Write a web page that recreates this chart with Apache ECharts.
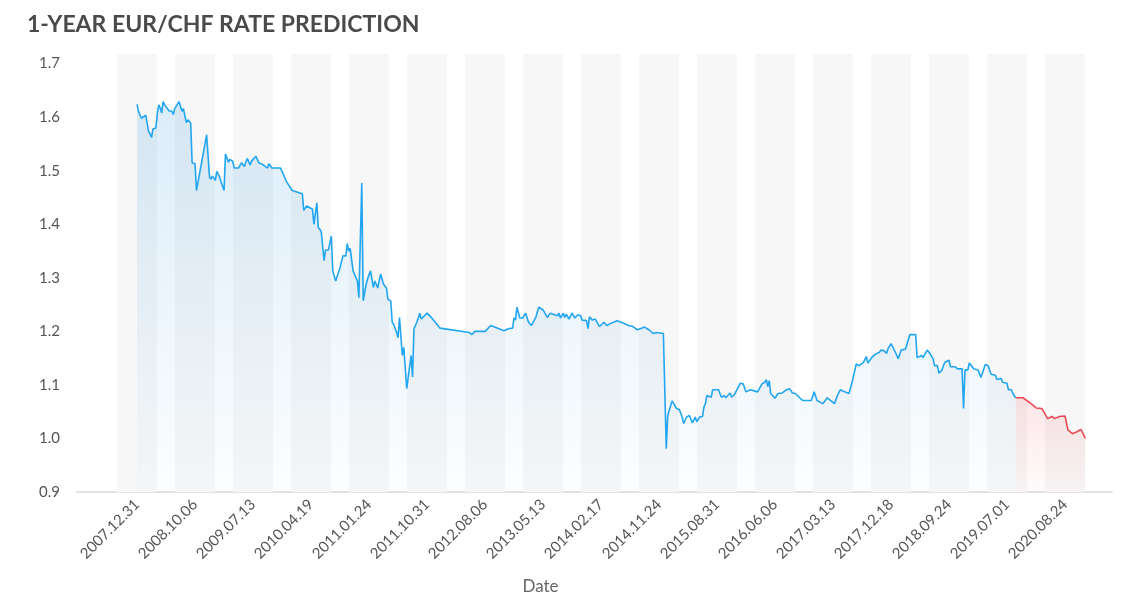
<!DOCTYPE html>
<html><head><meta charset="utf-8">
<script src="https://cdn.jsdelivr.net/npm/echarts@6/dist/echarts.min.js"></script>
<style>html,body{margin:0;padding:0;background:#fff}#c{width:1140px;height:612px}</style>
</head><body><div id="c"></div>
<script>
// x position = week index counted from 2007.12.31
const tickLabels = ['2007.12.31','2008.10.06','2009.07.13','2010.04.19','2011.01.24','2011.10.31','2012.08.06','2013.05.13','2014.02.17','2014.11.24','2015.08.31','2016.06.06','2017.03.13','2017.12.18','2018.09.24','2019.07.01','2020.08.24'];
const tickWeeks = [0,40,80,120,160,200,240,280,320,360,400,440,480,520,560,600,640];

const history = [
[0,1.624],[1,1.611],[2,1.609],[3,1.598],[4,1.601],[6,1.604],[7,1.607],[8,1.573],[9,1.569],[10,1.562],
[11,1.578],[13,1.580],[14,1.607],[15,1.623],[16,1.617],[17,1.608],[18,1.629],[19,1.623],[22,1.612],[24,1.611],
[25,1.605],[26,1.616],[27,1.618],[29,1.629],[31,1.611],[32,1.616],[33,1.618],[34,1.590],[35,1.595],[36,1.598],
[37,1.589],[38,1.515],[40,1.513],[41,1.463],[48,1.567],[50,1.488],[51,1.484],[52,1.490],[54,1.482],[55,1.499],
[57,1.488],[58,1.479],[60,1.463],[61,1.531],[62,1.524],[63,1.516],[64,1.521],[66,1.518],[67,1.505],[70,1.505],
[72,1.515],[74,1.508],[76,1.523],[78,1.511],[79,1.518],[82,1.527],[84,1.515],[87,1.511],[90,1.505],[91,1.513],
[93,1.505],[99,1.505],[101,1.493],[103,1.480],[107,1.463],[114,1.457],[115,1.426],[117,1.434],[121,1.428],[122,1.400],
[124,1.440],[125,1.394],[127,1.387],[129,1.332],[130,1.352],[132,1.352],[134,1.378],[135,1.313],[137,1.294],[140,1.319],
[141,1.319],[142,1.341],[144,1.341],[145,1.364],[146,1.350],[147,1.355],[149,1.313],[152,1.294],[153,1.263],[155,1.477],
[156,1.257],[158,1.288],[159,1.298],[161,1.313],[163,1.282],[164,1.294],[166,1.281],[168,1.307],[170,1.288],[172,1.281],
[173,1.260],[175,1.257],[176,1.217],[177,1.213],[179,1.198],[180,1.188],[181,1.226],[183,1.155],[184,1.170],[186,1.093],
[189,1.155],[190,1.115],[191,1.205],[193,1.217],[194,1.217],[195,1.234],[196,1.223],[197,1.223],[200,1.234],[203,1.226],
[209,1.206],[229,1.198],[231,1.194],[233,1.200],[240,1.200],[244,1.211],[253,1.201],[256,1.205],[259,1.206],[260,1.225],
[261,1.221],[262,1.245],[263,1.245],[264,1.225],[266,1.225],[268,1.234],[270,1.217],[272,1.211],[275,1.226],[276,1.225],
[277,1.245],[280,1.240],[283,1.226],[285,1.234],[290,1.229],[291,1.234],[292,1.225],[294,1.234],[295,1.226],[296,1.232],
[298,1.223],[300,1.234],[302,1.225],[304,1.231],[306,1.229],[307,1.221],[308,1.223],[310,1.220],[311,1.205],[312,1.227],
[314,1.221],[316,1.223],[317,1.221],[319,1.209],[322,1.217],[324,1.211],[326,1.214],[331,1.220],[334,1.217],[339,1.211],
[342,1.209],[345,1.203],[347,1.205],[348,1.203],[350,1.208],[353,1.203],[354,1.205],[356,1.196],[358,1.198],[363,1.196],
[365,0.981],[366,1.043],[367,1.046],[369,1.070],[370,1.066],[372,1.056],[374,1.054],[376,1.040],[377,1.028],[379,1.040],
[381,1.043],[383,1.029],[385,1.040],[386,1.031],[388,1.040],[390,1.041],[391,1.059],[392,1.065],[393,1.080],[396,1.077],
[397,1.091],[401,1.091],[403,1.077],[405,1.080],[406,1.076],[409,1.085],[410,1.077],[412,1.082],[416,1.103],[418,1.102],
[420,1.087],[423,1.091],[428,1.087],[431,1.102],[433,1.105],[434,1.110],[435,1.097],[436,1.108],[437,1.084],[440,1.075],
[442,1.084],[445,1.085],[448,1.091],[450,1.093],[452,1.085],[454,1.084],[457,1.076],[459,1.071],[465,1.071],[467,1.087],
[469,1.071],[473,1.065],[476,1.076],[481,1.065],[483,1.080],[485,1.091],[488,1.087],[491,1.084],[493,1.103],[494,1.105],
[496,1.139],[498,1.136],[501,1.142],[503,1.153],[504,1.141],[507,1.152],[509,1.157],[512,1.161],[513,1.165],[515,1.164],
[517,1.159],[518,1.168],[520,1.177],[523,1.161],[525,1.149],[527,1.165],[530,1.167],[533,1.194],[537,1.194],[538,1.151],
[541,1.155],[542,1.151],[545,1.165],[547,1.158],[549,1.149],[550,1.136],[552,1.136],[553,1.122],[555,1.127],[556,1.127],
[557,1.142],[560,1.146],[561,1.134],[564,1.134],[566,1.130],[569,1.130],[570,1.056],[571,1.128],[573,1.128],[574,1.141],
[577,1.130],[580,1.128],[581,1.130],[582,1.114],[585,1.138],[587,1.136],[589,1.120],[592,1.118],[593,1.110],[596,1.112],
[597,1.105],[600,1.103],[601,1.091],[603,1.091],[604,1.084],[606,1.076]
];

const prediction = [
[606,1.076],[611,1.076],[617,1.064],[620,1.057],[624,1.056],[628,1.037],[631,1.041],[633,1.037],[636,1.041],[640,1.042],
[642,1.016],[645,1.009],[648,1.012],[651,1.017],[654,1.000]
];

const FONT = 'Lato';
const chart = echarts.init(document.getElementById('c'));
const bandHalf = 13.8;
const bands = tickWeeks.map(w => [{xAxis: w - bandHalf}, {xAxis: w + bandHalf}]);

chart.setOption({
  animation: false,
  backgroundColor: '#ffffff',
  title: {
    text: '1-YEAR EUR/CHF RATE PREDICTION',
    left: 22, top: 8,
    textStyle: {fontFamily: FONT, fontSize: 23, fontWeight: 'bold', color: '#4a4a4a'}
  },
  grid: {left: 77, right: 28, top: 54, bottom: 120, containLabel: false},
  xAxis: {
    type: 'value',
    min: -41.4, max: 672.4,
    name: 'Date',
    nameLocation: 'middle',
    nameGap: 86,
    nameTextStyle: {fontFamily: FONT, fontSize: 17, color: '#666', padding: [0, 108, 0, 0]},
    axisLine: {show: true, lineStyle: {color: '#e3e3e3', width: 2}},
    axisTick: {show: false},
    splitLine: {show: false},
    axisLabel: {
      customValues: tickWeeks,
      rotate: 45,
      margin: 10,
      fontFamily: FONT, fontSize: 15, color: '#555',
      formatter: v => tickLabels[tickWeeks.indexOf(Math.round(v))] || ''
    }
  },
  yAxis: {
    type: 'value',
    min: 0.9, max: 1.718, interval: 0.1,
    axisLine: {show: false},
    axisTick: {show: false},
    splitLine: {show: false},
    axisLabel: {
      showMaxLabel: false,
      margin: 17,
      fontFamily: FONT, fontSize: 15, color: '#555',
      formatter: v => v.toFixed(1)
    }
  },
  series: [
    {
      type: 'line', data: [], z: 0, silent: true,
      markArea: {silent: true, itemStyle: {color: '#f7f7f7'}, data: bands}
    },
    {
      type: 'line', data: history, z: 2, symbol: 'none',
      lineStyle: {color: '#22a6f1', width: 1.6},
      areaStyle: {
        color: new echarts.graphic.LinearGradient(0, 0, 0, 1, [
          {offset: 0, color: 'rgba(50,150,225,0.25)'},
          {offset: 1, color: 'rgba(50,150,225,0.02)'}
        ])
      }
    },
    {
      type: 'line', data: prediction, z: 2, symbol: 'none',
      lineStyle: {color: '#ee4a55', width: 1.6},
      areaStyle: {
        color: new echarts.graphic.LinearGradient(0, 0, 0, 1, [
          {offset: 0, color: 'rgba(235,75,85,0.2)'},
          {offset: 1, color: 'rgba(235,75,85,0.03)'}
        ])
      }
    }
  ]
});
</script>
</body></html>
